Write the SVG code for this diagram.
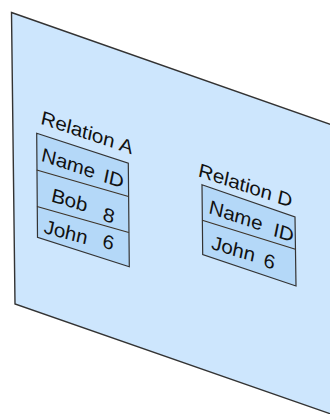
<svg xmlns="http://www.w3.org/2000/svg" width="330" height="414" viewBox="0 0 330 414">
  <style>
    .plane { fill: #cde6fd; stroke: #333333; stroke-width: 1.4; stroke-linejoin: miter; }
    .cell { fill: #b4d8f8; stroke: #333333; stroke-width: 1.2; }
    .sep { fill: none; stroke: #3d3328; stroke-width: 1.2; }
    .t { font-family: "Liberation Sans", Arial, sans-serif; font-style: italic; font-size: 20px; fill: #111111; }
  </style>
  <rect width="330" height="414" fill="#ffffff"/>
  <g id="plane">
    <polygon class="plane" points="11.5,12.5 331,124.5 331,414 15,304"/>
  </g>
  <g id="relation-a">
    <text class="t" font-size="19" transform="translate(41,124) skewY(18.5)">Relation A</text>
    <polygon class="cell" points="36.7,133.3 128.3,163.3 129.3,266.7 37.5,237.3"/>
    <line class="sep" x1="36.7" y1="170" x2="128.5" y2="196.5"/>
    <line class="sep" x1="37" y1="206.5" x2="128.8" y2="232.5"/>
    <text class="t" transform="translate(41.5,161) skewY(18.5)">Name</text>
    <text class="t" transform="translate(103.5,182) skewY(18.5)">ID</text>
    <text class="t" transform="translate(51.5,201.5) skewY(17)">Bob</text>
    <text class="t" transform="translate(103,220.5) skewY(17)">8</text>
    <text class="t" transform="translate(44,233) skewY(15)">John</text>
    <text class="t" transform="translate(102.5,247.5) skewY(15)">6</text>
  </g>
  <g id="relation-d">
    <text class="t" transform="translate(198.5,176.5) skewY(18.5)">Relation D</text>
    <polygon class="cell" points="202,184.7 295,217 296,286 202.7,254.5"/>
    <line class="sep" x1="202.3" y1="220.3" x2="295.4" y2="249.3"/>
    <text class="t" transform="translate(209,213.3) skewY(18.5)">Name</text>
    <text class="t" transform="translate(273.5,236) skewY(18.5)">ID</text>
    <text class="t" transform="translate(211.5,249) skewY(17)">John</text>
    <text class="t" transform="translate(263.5,266.5) skewY(17)">6</text>
  </g>
</svg>
